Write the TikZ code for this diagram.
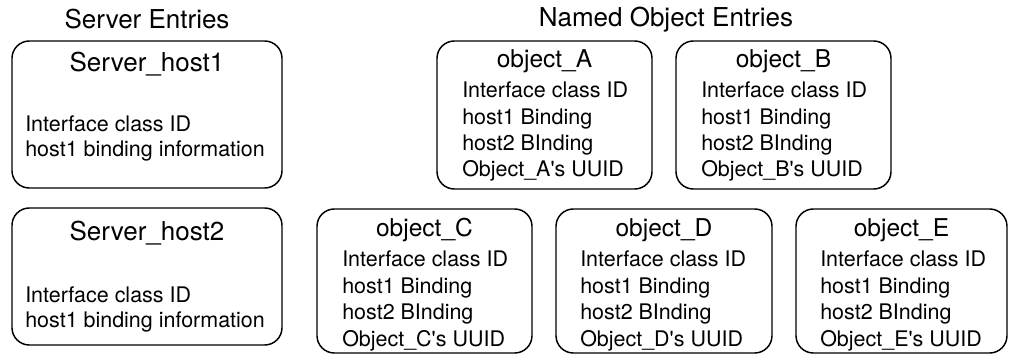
\documentclass[tikz,border=0pt]{standalone}
\usepackage{fontspec}
\setmainfont{TeX Gyre Heros}

\tikzset{
  entrybox/.style={draw, line width=1.1pt, rounded corners=13pt, inner sep=0pt},
  headtext/.style={inner sep=0pt, anchor=base, font=\fontsize{19.5}{23}\selectfont},
  objtitle/.style={inner sep=0pt, anchor=base, font=\fontsize{18.4}{22}\selectfont},
  % multi-line text: the base anchor sits on the last line
  bodytext/.style={inner sep=0pt, anchor=base west, align=left, font=\fontsize{16.1}{19.8}\selectfont},
}

\begin{document}
\begin{tikzpicture}[x=0.75pt,y=0.75pt,yscale=-1,xscale=1]
\useasboundingbox (0,0) rectangle (1010,356);

% Column heads
\node [headtext] (srvhead) at (147,29) {Server Entries};
\node [headtext] (objhead) at (666,27) {Named Object Entries};

% Server entries
\node [entrybox, minimum width=202.5pt, minimum height=110.25pt] (srv1) at (147,114.5) {};
\node [headtext] (srv1title) at (147,72) {Server\_host1};
\node [bodytext, font=\fontsize{16.1}{18.75}\selectfont] (srv1body) at (25,157) {Interface class ID\\host1 binding information};

\node [entrybox, minimum width=202.5pt, minimum height=102.75pt] (srv2) at (147,276.5) {};
\node [headtext] (srv2title) at (147,240) {Server\_host2};
\node [bodytext, font=\fontsize{16.1}{18.75}\selectfont] (srv2body) at (25,327) {Interface class ID\\host1 binding information};

% Named object entries, top row
\node [entrybox, minimum width=161.25pt, minimum height=111pt] (objA) at (544.5,115) {};
\node [objtitle] (objAtitle) at (544.5,68) {object\_A};
\node [bodytext] (objAbody) at (462,177) {Interface class ID\\host1 Binding\\host2 BInding\\Object\_A\textquotesingle s UUID};

\node [entrybox, minimum width=161.25pt, minimum height=111pt] (objB) at (783.5,115) {};
\node [objtitle] (objBtitle) at (783.5,68) {object\_B};
\node [bodytext] (objBbody) at (701,177) {Interface class ID\\host1 Binding\\host2 BInding\\Object\_B\textquotesingle s UUID};

% Named object entries, bottom row
\node [entrybox, minimum width=161.25pt, minimum height=108pt] (objC) at (424.5,281) {};
\node [objtitle] (objCtitle) at (424.5,236) {object\_C};
\node [bodytext] (objCbody) at (342,346) {Interface class ID\\host1 Binding\\host2 BInding\\Object\_C\textquotesingle s UUID};

\node [entrybox, minimum width=162pt, minimum height=108pt] (objD) at (664,281) {};
\node [objtitle] (objDtitle) at (664,236) {object\_D};
\node [bodytext] (objDbody) at (580,346) {Interface class ID\\host1 Binding\\host2 BInding\\Object\_D\textquotesingle s UUID};

\node [entrybox, minimum width=158.25pt, minimum height=108pt] (objE) at (901.5,281) {};
\node [objtitle] (objEtitle) at (901.5,236) {object\_E};
\node [bodytext] (objEbody) at (820,346) {Interface class ID\\host1 Binding\\host2 BInding\\Object\_E\textquotesingle s UUID};

\end{tikzpicture}
\end{document}
